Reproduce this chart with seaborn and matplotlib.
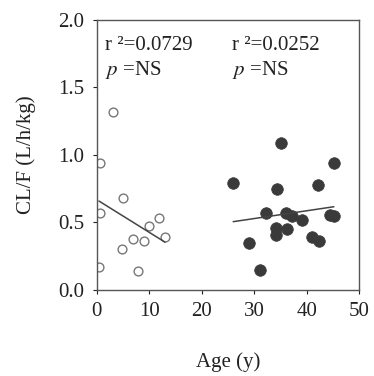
import matplotlib
matplotlib.use("Agg")
import matplotlib.pyplot as plt
import pandas as pd
import seaborn as sns

# children (open circles)
child_age = [0.6, 3.1, 0.6, 0.4, 4.9, 4.8, 6.9, 9.0, 7.9, 9.9, 11.9, 13.0]
child_cl = [0.94, 1.32, 0.57, 0.17, 0.68, 0.30, 0.375, 0.36, 0.14, 0.47, 0.53, 0.395]

# adults (filled circles)
adult_age = [26.0, 35.1, 45.2, 34.3, 42.2, 32.3, 36.1, 37.2, 39.1, 44.5, 45.2,
             34.2, 34.2, 36.2, 29.1, 31.1, 41.0, 42.3]
adult_cl = [0.79, 1.09, 0.94, 0.75, 0.775, 0.57, 0.57, 0.55, 0.52, 0.555, 0.55,
            0.46, 0.41, 0.45, 0.35, 0.15, 0.39, 0.365]

labels = [("r \u00b2=0.0729", r"$p$ =NS", 1.5), ("r \u00b2=0.0252", r"$p$ =NS", 25.8)]

sns.set_style("ticks")
plt.rcParams["font.family"] = ["Liberation Serif", "DejaVu Serif"]
plt.rcParams["mathtext.fontset"] = "stix"

kids = pd.DataFrame({"age": child_age, "cl": child_cl})
adults = pd.DataFrame({"age": adult_age, "cl": adult_cl})

fig = plt.figure(figsize=(3.74, 3.76), dpi=100)
ax = fig.add_axes([0.259, 0.229, 0.701, 0.718])

sns.regplot(data=kids, x="age", y="cl", ci=None, ax=ax,
            scatter_kws=dict(s=40, facecolor="white", edgecolor="#555555", linewidths=1.0),
            line_kws=dict(color="#444444", lw=1.1))
sns.regplot(data=adults, x="age", y="cl", ci=None, ax=ax,
            scatter_kws=dict(s=70, color="#3a3a3a", edgecolor="#3a3a3a", linewidths=0.5, alpha=1),
            line_kws=dict(color="#444444", lw=1.1))

for r2, p, xpos in labels:
    ax.text(xpos, 1.81, r2, fontsize=15, va="center", color="#222222")
    ax.text(xpos, 1.63, p, fontsize=15, va="center", color="#222222")

ax.set_xlim(0, 50)
ax.set_ylim(0, 2.0)
ax.set_xticks([0, 10, 20, 30, 40, 50])
ax.set_yticks([0.0, 0.5, 1.0, 1.5, 2.0])
ax.set_yticklabels(["0.0", "0.5", "1.0", "1.5", "2.0"])
ax.tick_params(labelsize=15, length=3, width=0.8, colors="#222222", pad=6)
for sp in ax.spines.values():
    sp.set_visible(True)
    sp.set_color("#555555")
    sp.set_linewidth(1.0)
ax.set_xlabel("Age (y)", fontsize=15, color="#222222", labelpad=22)
ax.set_ylabel("CL/F (L/h/kg)", fontsize=15, color="#222222", labelpad=16)

fig.savefig("out.png", dpi=100)
